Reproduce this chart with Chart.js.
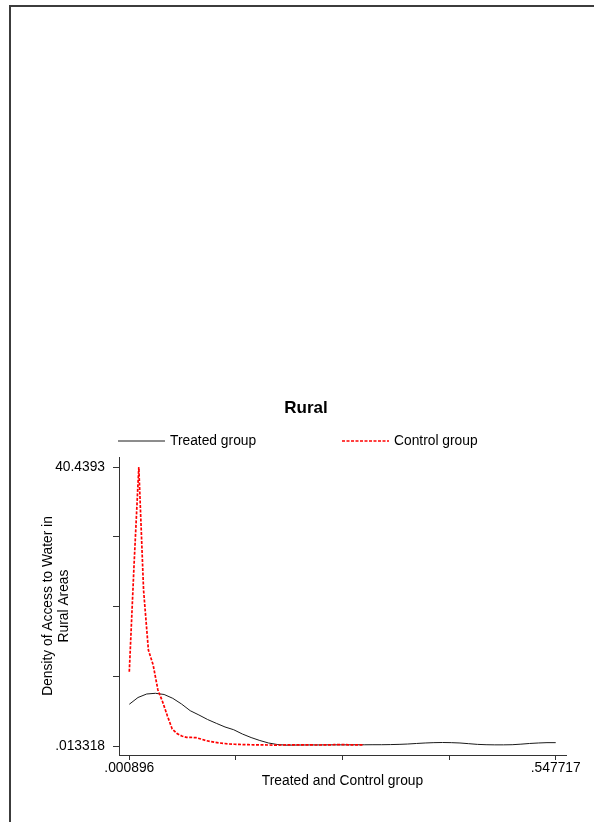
<!DOCTYPE html>
<html>
<head>
<meta charset="utf-8">
<script src="https://cdn.jsdelivr.net/npm/chart.js@4.4.0/dist/chart.umd.min.js"></script>
<style>
  html, body { margin: 0; padding: 0; background: #fff; }
  #wrap { position: relative; width: 594px; height: 822px; overflow: hidden; }
  #frame { position: absolute; left: 9px; top: 5px; right: -5px; bottom: -5px;
           border-left: 2px solid #3c3c3c; border-top: 2px solid #3c3c3c; pointer-events: none; }
  canvas { position: absolute; left: 0; top: 0; }
</style>
</head>
<body>
<div id="wrap">
  <canvas id="c" width="594" height="822"></canvas>
  <div id="frame"></div>
</div>
<script>
// ---- data ----
const chartTitle = 'Rural';
const seriesNames = ['Treated group', 'Control group'];
const xAxisTitle = 'Treated and Control group';
const yAxisTitle = ['Density of Access to Water in', 'Rural Areas'];

const treatedX = [0.000896, 0.012055, 0.023214, 0.034373, 0.045532, 0.056691, 0.067850, 0.079009, 0.090168, 0.101327,
                  0.112486, 0.123645, 0.134804, 0.145963, 0.157122, 0.168281, 0.179440, 0.190599, 0.201758, 0.212917,
                  0.224076, 0.235235, 0.246394, 0.257553, 0.268712, 0.279871, 0.291030, 0.302189, 0.313348, 0.324507,
                  0.335666, 0.346825, 0.357984, 0.369143, 0.380302, 0.391461, 0.402620, 0.413779, 0.424938, 0.436097,
                  0.447256, 0.458415, 0.469574, 0.480733, 0.491892, 0.503051, 0.514210, 0.525369, 0.536528, 0.547717];
const treatedY = [6.06, 7.04, 7.55, 7.65, 7.48, 6.92, 6.10, 5.13, 4.51, 3.85,
                  3.30, 2.77, 2.37, 1.75, 1.24, 0.81, 0.45, 0.23, 0.14, 0.15,
                  0.16, 0.17, 0.17, 0.18, 0.18, 0.18, 0.19, 0.19, 0.20, 0.20,
                  0.22, 0.25, 0.30, 0.38, 0.45, 0.50, 0.52, 0.50, 0.45, 0.35,
                  0.25, 0.20, 0.18, 0.18, 0.20, 0.28, 0.38, 0.45, 0.50, 0.50];

const controlX = [0.0009, 0.0070, 0.0131, 0.0192, 0.0254, 0.0315, 0.0376, 0.0437, 0.0498, 0.0559,
                  0.0621, 0.0682, 0.0743, 0.0804, 0.0865, 0.0926, 0.0988, 0.1049, 0.1110, 0.1171,
                  0.1232, 0.1293, 0.1355, 0.1416, 0.1477, 0.1538, 0.1599, 0.1660, 0.1721, 0.1783,
                  0.1844, 0.1905, 0.1966, 0.2027, 0.2088, 0.2150, 0.2211, 0.2272, 0.2333, 0.2394,
                  0.2455, 0.2517, 0.2578, 0.2639, 0.2700, 0.2761, 0.2822, 0.2884, 0.2945, 0.3006];
const controlY = [10.78, 26.24, 40.4393, 22.6, 13.92, 11.75, 8.13, 6.39, 4.36, 2.48,
                  1.82, 1.46, 1.27, 1.25, 1.22, 1.03, 0.81, 0.67, 0.55, 0.45,
                  0.38, 0.30, 0.27, 0.24, 0.22, 0.20, 0.19, 0.18, 0.17, 0.16,
                  0.15, 0.15, 0.16, 0.17, 0.18, 0.19, 0.19, 0.18, 0.17, 0.16,
                  0.16, 0.17, 0.18, 0.20, 0.22, 0.21, 0.19, 0.18, 0.18, 0.19];

const xTickValues = [0.000896, 0.1376013, 0.2743065, 0.4110118, 0.547717];
const xTickLabels = ['.000896', '', '', '', '.547717'];
const yTickValues = [0.013318, 10.1198135, 20.226309, 30.3328045, 40.4393];
const yTickLabels = ['.013318', '', '', '', '40.4393'];

const xRange = [-0.0123, 0.5609];
const yRange = [-1.29, 41.89];

// ---- build chart ----
const FONT = '"Liberation Sans", Arial, Helvetica, sans-serif';
const toPoints = (xs, ys) => xs.map((x, i) => ({ x: x, y: ys[i] }));

const legendPlugin = {
  id: 'stataLegend',
  afterDraw(chart) {
    const ctx = chart.ctx;
    const slots = [{ x: 118, y: 441 }, { x: 342, y: 441 }];
    const sampleLen = 47;
    const order = [1, 0]; // treated is dataset index 1, control index 0
    ctx.save();
    ctx.font = '13.8px ' + FONT;
    ctx.textBaseline = 'middle';
    ctx.textAlign = 'left';
    order.forEach((di, k) => {
      const ds = chart.data.datasets[di];
      const s = slots[k];
      ctx.beginPath();
      ctx.strokeStyle = ds.borderColor;
      ctx.lineWidth = ds.borderWidth;
      ctx.setLineDash(ds.borderDash || []);
      ctx.moveTo(s.x, s.y);
      ctx.lineTo(s.x + sampleLen, s.y);
      ctx.stroke();
      ctx.setLineDash([]);
      ctx.fillStyle = '#000';
      ctx.fillText(ds.label, s.x + sampleLen + 5, s.y + 0.5);
    });
    ctx.restore();
  }
};

new Chart(document.getElementById('c'), {
  type: 'line',
  data: {
    datasets: [
      {
        label: seriesNames[1],
        data: toPoints(controlX, controlY),
        borderColor: '#ff0000',
        borderWidth: 1.7,
        borderDash: [3, 1.5],
        pointRadius: 0,
        tension: 0,
        fill: false,
        order: 0
      },
      {
        label: seriesNames[0],
        data: toPoints(treatedX, treatedY),
        borderColor: '#1a1a1a',
        borderWidth: 1,
        pointRadius: 0,
        tension: 0,
        fill: false,
        order: 1
      }
    ]
  },
  options: {
    responsive: false,
    animation: false,
    devicePixelRatio: 1,
    layout: { padding: { left: 46, right: 28, top: 0, bottom: 32.7 } },
    plugins: {
      legend: { display: false },
      tooltip: { enabled: false },
      title: {
        display: true,
        text: chartTitle,
        color: '#000',
        font: { family: FONT, size: 17, weight: 'bold', lineHeight: 1.2 },
        padding: { top: 398.3, bottom: 38.3 }
      }
    },
    scales: {
      x: {
        type: 'linear',
        min: xRange[0],
        max: xRange[1],
        afterBuildTicks: (s) => { s.ticks = xTickValues.map(v => ({ value: v })); },
        afterFit: (s) => { s.height = 34.3; },
        ticks: {
          autoSkip: false,
          maxRotation: 0,
          padding: 0,
          color: '#000',
          font: { family: FONT, size: 13.8 },
          callback: (v, i) => xTickLabels[i]
        },
        grid: { drawOnChartArea: false, drawTicks: true, tickLength: 5, color: '#333', tickWidth: 1 },
        border: { display: true, color: '#333', width: 1 },
        title: {
          display: true,
          text: xAxisTitle,
          color: '#000',
          padding: 0,
          font: { family: FONT, size: 13.8, lineHeight: 1.2 }
        }
      },
      y: {
        type: 'linear',
        min: yRange[0],
        max: yRange[1],
        afterBuildTicks: (s) => { s.ticks = yTickValues.map(v => ({ value: v })); },
        afterFit: (s) => { s.width = 73; },
        ticks: {
          autoSkip: false,
          padding: 8,
          color: '#000',
          font: { family: FONT, size: 13.8 },
          callback: (v, i) => yTickLabels[i]
        },
        grid: { drawOnChartArea: false, drawTicks: true, tickLength: 6, color: '#333', tickWidth: 1 },
        border: { display: true, color: '#333', width: 1 },
        title: {
          display: true,
          text: yAxisTitle,
          color: '#000',
          padding: { top: -6, bottom: 0 },
          font: { family: FONT, size: 13.8, lineHeight: 1.16 }
        }
      }
    }
  },
  plugins: [legendPlugin]
});
</script>
</body>
</html>
